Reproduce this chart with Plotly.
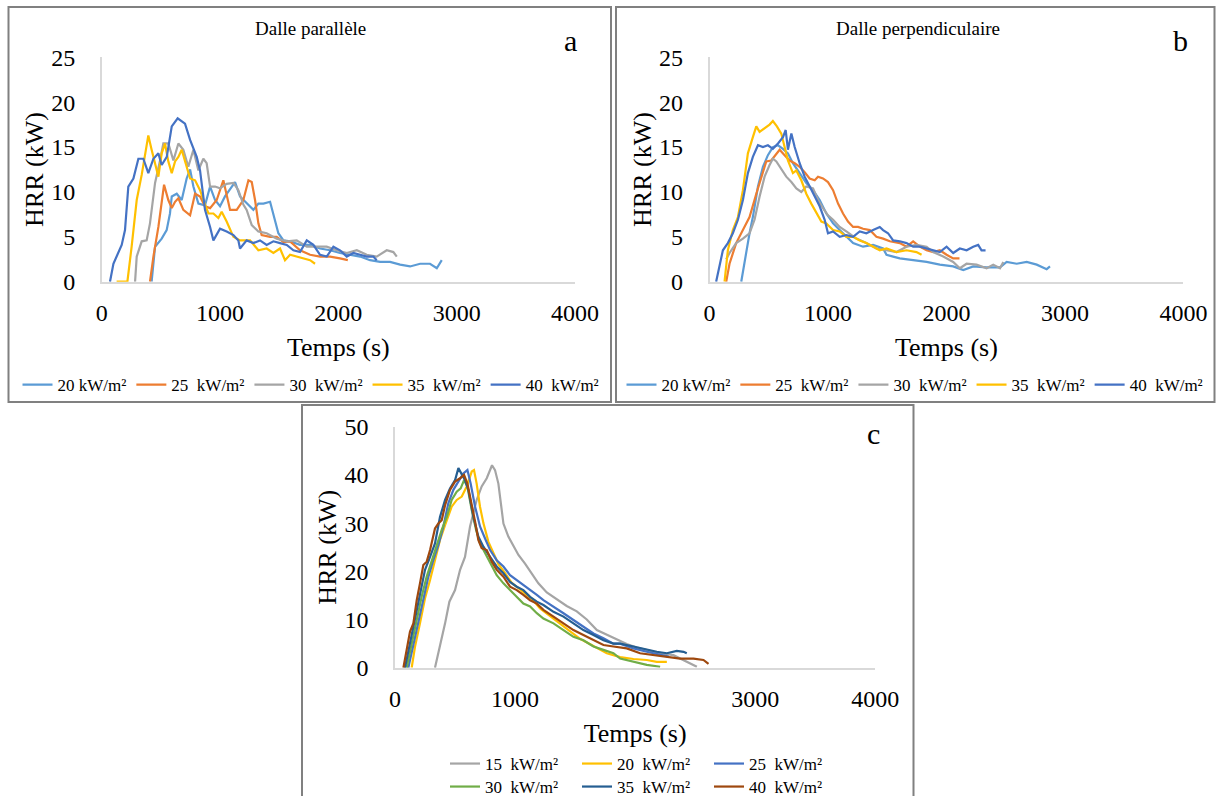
import plotly.graph_objects as go

W, H = 1217, 796
FONT = "Liberation Serif, Times New Roman, serif"

# ---------------- Panel a : Dalle parallèle ----------------
a_names = ["20 kW/m²", "25  kW/m²", "30  kW/m²", "35  kW/m²", "40  kW/m²"]
a_colors = ["#5B9BD5", "#ED7D31", "#A5A5A5", "#FFC000", "#4472C4"]

a20_x = [422, 451, 507, 549, 577, 592, 634, 676, 718, 747, 775, 817, 873, 916, 958, 1000, 1042, 1099, 1127, 1169, 1226, 1282, 1324, 1367, 1423, 1451, 1493, 1536, 1592, 1676, 1761, 1845, 1930, 2014, 2099, 2184, 2268, 2353, 2437, 2522, 2606, 2691, 2775, 2832, 2874]
a20_y = [0, 3.9, 4.8, 5.75, 7.6, 9.5, 9.8, 9.1, 11.5, 12.5, 10.6, 8.7, 8.5, 10.6, 9.1, 8.4, 9.5, 10.6, 11.1, 9.5, 8.7, 8.0, 8.7, 8.7, 8.9, 7.6, 5.4, 4.6, 4.5, 4.1, 4.1, 3.7, 3.5, 3.2, 3.0, 2.8, 2.4, 2.2, 2.2, 1.9, 1.7, 2.0, 2.0, 1.5, 2.4]

a25_x = [408, 437, 479, 507, 527, 563, 592, 620, 648, 690, 747, 789, 831, 873, 916, 972, 1028, 1085, 1141, 1197, 1240, 1268, 1296, 1324, 1352, 1423, 1479, 1536, 1592, 1676, 1761, 1845, 1930, 2014, 2080]
a25_y = [0, 2.8, 6.1, 9.1, 10.8, 9.1, 8.2, 8.9, 9.3, 8.0, 7.4, 9.8, 9.5, 8.4, 8.2, 9.1, 11.3, 8.0, 8.0, 9.1, 11.3, 11.1, 9.1, 6.5, 5.2, 5.0, 5.0, 4.4, 4.5, 3.5, 3.0, 2.8, 2.8, 2.6, 2.4]

a30_x = [282, 296, 338, 380, 408, 451, 493, 521, 563, 606, 648, 690, 732, 775, 817, 859, 887, 916, 958, 1000, 1056, 1113, 1155, 1197, 1225, 1268, 1324, 1394, 1479, 1564, 1648, 1733, 1817, 1901, 1986, 2071, 2156, 2240, 2324, 2409, 2465, 2494]
a30_y = [0, 2.8, 4.5, 4.6, 6.5, 11.0, 13.5, 15.4, 15.4, 13.5, 15.4, 14.7, 12.8, 14.7, 12.4, 13.7, 13.2, 10.6, 10.6, 10.4, 10.9, 11.0, 10.2, 8.6, 8.0, 6.3, 5.6, 5.4, 4.8, 4.5, 4.6, 3.9, 3.9, 3.9, 3.5, 3.2, 3.5, 3.0, 2.8, 3.5, 3.3, 2.8]

a35_x = [126, 217, 253, 296, 338, 366, 394, 422, 451, 479, 507, 535, 563, 592, 620, 648, 676, 718, 747, 789, 831, 873, 902, 944, 986, 1014, 1056, 1113, 1169, 1254, 1324, 1394, 1451, 1507, 1549, 1592, 1648, 1705, 1761, 1803]
a35_y = [0, 0, 3.9, 9.1, 11.9, 13.9, 16.3, 14.7, 13.0, 11.7, 14.3, 15.4, 13.4, 12.1, 13.4, 13.9, 14.7, 12.8, 11.5, 11.3, 10.2, 8.6, 7.6, 7.6, 7.1, 7.8, 6.7, 5.0, 4.6, 4.6, 3.5, 3.7, 3.2, 3.7, 2.4, 3.0, 2.8, 2.6, 2.4, 2.0]

a40_x = [70, 99, 169, 197, 225, 268, 310, 352, 394, 437, 479, 507, 550, 592, 642, 704, 747, 803, 831, 873, 916, 944, 1000, 1056, 1113, 1155, 1169, 1225, 1282, 1338, 1394, 1451, 1507, 1564, 1620, 1676, 1733, 1789, 1845, 1902, 1958, 2014, 2071, 2127, 2184, 2240, 2296, 2324]
a40_y = [0, 2.0, 4.1, 5.75, 10.6, 11.5, 13.7, 13.7, 12.1, 13.7, 14.3, 13.0, 13.9, 17.3, 18.2, 17.6, 15.8, 13.9, 12.4, 8.0, 6.1, 4.6, 5.9, 5.6, 5.2, 4.6, 3.7, 4.6, 4.3, 4.6, 4.1, 4.5, 4.3, 4.1, 3.5, 3.3, 4.6, 4.1, 3.0, 2.8, 3.9, 3.5, 2.8, 3.2, 3.0, 2.8, 2.8, 2.4]

# ---------------- Panel b : Dalle perpendiculaire ----------------
b20_x = [268, 310, 338, 366, 409, 451, 493, 535, 578, 620, 662, 704, 761, 817, 874, 930, 986, 1043, 1099, 1155, 1212, 1296, 1381, 1465, 1494, 1550, 1606, 1719, 1832, 1944, 2057, 2142, 2226, 2339, 2452, 2508, 2593, 2677, 2762, 2846, 2874]
b20_y = [0, 3.5, 5.4, 7.2, 10.6, 12.8, 14.1, 15.0, 15.2, 14.8, 14.3, 13.2, 12.1, 11.0, 10.2, 9.1, 7.6, 6.5, 5.75, 5.0, 4.3, 3.9, 4.1, 3.7, 3.0, 2.8, 2.6, 2.4, 2.2, 1.9, 1.7, 1.3, 1.7, 1.6, 1.6, 2.2, 2.0, 2.2, 1.9, 1.4, 1.7]

b25_x = [141, 169, 225, 282, 338, 395, 437, 479, 521, 564, 592, 634, 676, 719, 761, 803, 845, 888, 916, 958, 1000, 1043, 1085, 1127, 1169, 1212, 1254, 1296, 1353, 1409, 1465, 1522, 1606, 1663, 1719, 1775, 1832, 1888, 1944, 2001, 2057, 2110]
b25_y = [0, 2.0, 4.3, 5.75, 7.2, 9.8, 11.7, 13.4, 13.5, 14.3, 14.7, 14.1, 13.5, 13.2, 12.8, 12.2, 11.5, 11.3, 11.7, 11.5, 11.1, 10.2, 8.7, 7.6, 6.7, 6.1, 6.1, 5.9, 5.75, 5.0, 4.8, 4.5, 4.3, 3.9, 4.5, 3.9, 3.5, 3.3, 3.5, 3.0, 2.6, 2.6]

b30_x = [141, 169, 225, 282, 338, 380, 423, 465, 507, 535, 564, 606, 648, 691, 733, 775, 817, 874, 916, 958, 1000, 1043, 1099, 1155, 1240, 1324, 1409, 1494, 1578, 1663, 1747, 1832, 1888, 1973, 2057, 2113, 2170, 2254, 2339, 2395, 2452, 2480]
b30_y = [2.5, 3.2, 4.3, 4.8, 5.4, 6.9, 9.5, 11.7, 13.0, 13.7, 13.4, 12.6, 11.7, 11.1, 10.4, 10.0, 10.6, 10.4, 9.1, 8.2, 7.4, 6.9, 6.1, 5.6, 4.8, 4.3, 3.7, 3.5, 3.3, 3.9, 4.1, 3.9, 3.3, 2.8, 2.2, 1.5, 2.0, 1.9, 1.5, 1.9, 1.5, 2.2]

b35_x = [127, 155, 197, 240, 282, 324, 366, 395, 423, 465, 507, 535, 569, 606, 634, 662, 704, 733, 775, 817, 859, 902, 944, 986, 1043, 1099, 1155, 1212, 1268, 1324, 1381, 1437, 1494, 1578, 1663, 1747, 1790]
b35_y = [0, 3.5, 5.75, 7.2, 10.2, 14.3, 16.1, 17.3, 16.7, 17.1, 17.5, 17.9, 17.3, 16.5, 15.0, 13.5, 12.1, 12.4, 11.3, 9.8, 8.7, 7.6, 6.7, 6.5, 5.75, 5.6, 5.0, 5.0, 4.6, 4.3, 3.9, 3.5, 3.7, 3.3, 3.5, 3.3, 3.0]

b40_x = [56, 113, 155, 197, 240, 282, 324, 366, 409, 451, 493, 535, 578, 620, 643, 662, 691, 719, 761, 803, 846, 888, 930, 972, 1000, 1043, 1099, 1155, 1212, 1268, 1324, 1381, 1437, 1465, 1507, 1550, 1606, 1663, 1719, 1775, 1832, 1888, 1944, 2001, 2057, 2113, 2170, 2226, 2268, 2296, 2330]
b40_y = [0, 3.5, 4.3, 5.4, 6.9, 9.1, 12.1, 13.9, 15.2, 15.0, 15.2, 14.8, 15.4, 16.1, 16.9, 14.7, 16.5, 15.0, 13.2, 11.7, 10.6, 9.5, 8.4, 6.9, 5.4, 5.6, 5.0, 5.2, 5.0, 5.6, 5.4, 5.75, 6.1, 5.75, 5.4, 4.6, 4.5, 4.3, 3.9, 3.9, 3.7, 3.5, 3.3, 3.9, 3.2, 3.7, 3.5, 3.9, 4.1, 3.5, 3.5]

# ---------------- Panel c ----------------
c_names = ["15  kW/m²", "20  kW/m²", "25  kW/m²", "30  kW/m²", "35  kW/m²", "40  kW/m²"]
c_colors = ["#A5A5A5", "#FFC000", "#4472C4", "#70AD47", "#255E91", "#9E480E"]

c15_x = [333, 375, 417, 453, 500, 542, 583, 625, 680, 722, 764, 808, 833, 861, 903, 944, 986, 1028, 1083, 1139, 1194, 1264, 1347, 1430, 1514, 1597, 1681, 1764, 1847, 1930, 2014, 2097, 2208, 2319, 2403, 2458, 2514]
c15_y = [0, 4.4, 9.2, 13.7, 16.1, 20.3, 23.0, 29.3, 34.8, 37.6, 39.3, 42.0, 41.0, 38.2, 29.9, 27.2, 25.4, 23.4, 21.6, 19.6, 17.5, 15.6, 14.2, 12.8, 11.7, 10.0, 7.8, 6.8, 5.9, 4.9, 4.2, 3.7, 3.0, 2.6, 1.6, 0.9, 0.2]

c20_x = [139, 167, 208, 250, 292, 333, 375, 417, 472, 514, 556, 597, 639, 658, 680, 708, 736, 778, 819, 861, 917, 972, 1028, 1083, 1139, 1208, 1319, 1430, 1541, 1653, 1764, 1875, 1986, 2097, 2180, 2264]
c20_y = [0, 4.4, 9.2, 14.4, 18.2, 22.3, 26.5, 29.6, 33.4, 34.8, 35.5, 37.6, 40.7, 41.0, 38.2, 33.4, 30.0, 26.1, 23.7, 21.5, 19.6, 17.6, 16.5, 15.4, 14.3, 12.3, 10.2, 8.2, 6.0, 4.5, 3.0, 2.2, 1.8, 1.6, 1.2, 1.2]

c25_x = [111, 153, 194, 236, 278, 319, 361, 403, 444, 486, 528, 569, 603, 630, 667, 708, 750, 792, 847, 903, 958, 1014, 1069, 1125, 1181, 1236, 1320, 1403, 1486, 1569, 1653, 1736, 1819, 1875, 1986, 2097, 2208, 2280]
c25_y = [0, 4.7, 9.9, 14.7, 18.9, 22.3, 25.4, 29.3, 34.1, 36.9, 38.6, 40.3, 41.0, 38.2, 33.4, 29.3, 26.8, 24.4, 22.3, 21.0, 19.2, 18.2, 17.2, 16.1, 15.1, 14.0, 12.7, 11.3, 9.9, 8.5, 7.1, 6.1, 5.0, 5.0, 4.0, 3.3, 2.6, 2.3]

c30_x = [97, 139, 181, 222, 264, 306, 347, 389, 431, 472, 514, 547, 575, 603, 639, 675, 708, 750, 792, 847, 903, 958, 1014, 1069, 1125, 1181, 1236, 1320, 1403, 1486, 1569, 1653, 1736, 1819, 1875, 1986, 2097, 2208]
c30_y = [0, 5.0, 9.9, 14.7, 18.9, 22.3, 25.1, 28.6, 31.3, 34.8, 36.5, 37.2, 38.9, 37.6, 32.7, 28.6, 25.8, 23.7, 21.6, 19.2, 17.5, 16.1, 14.7, 13.3, 12.7, 11.3, 10.2, 9.2, 7.8, 6.4, 5.7, 4.4, 3.7, 3.0, 1.9, 1.2, 0.6, 0.2]

c35_x = [83, 125, 167, 208, 250, 292, 333, 375, 417, 458, 500, 528, 556, 583, 611, 653, 694, 736, 792, 847, 903, 958, 1014, 1069, 1125, 1181, 1236, 1320, 1403, 1486, 1569, 1653, 1736, 1819, 1875, 1986, 2097, 2180, 2264, 2347, 2403, 2430]
c35_y = [0, 5.0, 9.9, 14.7, 20.3, 23.0, 25.8, 31.3, 34.8, 37.2, 38.9, 41.4, 40.0, 38.9, 36.9, 31.3, 27.2, 25.1, 23.0, 21.0, 19.6, 17.8, 16.8, 16.1, 14.7, 13.7, 13.0, 11.6, 10.6, 9.2, 7.8, 6.8, 5.7, 5.0, 5.0, 4.4, 3.7, 3.3, 3.0, 3.5, 3.3, 3.0]

c40_x = [70, 97, 125, 153, 181, 208, 236, 264, 292, 333, 361, 389, 417, 458, 500, 542, 575, 603, 639, 667, 694, 722, 764, 806, 847, 903, 958, 1014, 1069, 1125, 1181, 1236, 1320, 1403, 1486, 1569, 1653, 1736, 1819, 1930, 2041, 2153, 2264, 2375, 2486, 2569, 2611]
c40_y = [0, 3.7, 7.5, 9.2, 14.0, 17.5, 21.3, 22.0, 24.4, 28.9, 29.9, 30.6, 33.7, 36.9, 38.6, 39.3, 40.0, 38.2, 34.1, 30.3, 26.5, 24.8, 24.4, 22.0, 20.3, 18.9, 16.8, 16.1, 15.1, 14.0, 13.3, 12.0, 10.6, 9.2, 7.8, 6.8, 5.7, 4.7, 4.4, 4.0, 3.0, 2.6, 2.3, 1.9, 1.9, 1.6, 0.8]

x_ticks = [0, 1000, 2000, 3000, 4000]

fig = go.Figure()

a_series = [(a20_x, a20_y), (a25_x, a25_y), (a30_x, a30_y), (a35_x, a35_y), (a40_x, a40_y)]
b_series = [(b20_x, b20_y), (b25_x, b25_y), (b30_x, b30_y), (b35_x, b35_y), (b40_x, b40_y)]
c_series = [(c15_x, c15_y), (c20_x, c20_y), (c25_x, c25_y), (c30_x, c30_y), (c35_x, c35_y), (c40_x, c40_y)]

for (xs, ys), name, col in zip(a_series, a_names, a_colors):
    fig.add_trace(go.Scatter(x=xs, y=ys, mode="lines", name=name, line=dict(color=col, width=2.2),
                             xaxis="x", yaxis="y", legend="legend"))
for (xs, ys), name, col in zip(b_series, a_names, a_colors):
    fig.add_trace(go.Scatter(x=xs, y=ys, mode="lines", name=name, line=dict(color=col, width=2.2),
                             xaxis="x2", yaxis="y2", legend="legend2"))
for i, ((xs, ys), name, col) in enumerate(zip(c_series, c_names, c_colors)):
    fig.add_trace(go.Scatter(x=xs, y=ys, mode="lines", name=name, line=dict(color=col, width=2.2),
                             xaxis="x3", yaxis="y3", legend="legend3" if i < 3 else "legend4"))


def px(v):
    return v / W


def py(v):
    return 1 - v / H


tickfont = dict(family=FONT, size=24, color="black")
titlefont = dict(family=FONT, size=26, color="black")
axis_line = "#D9D9D9"


def xaxis(dom, anchor):
    return dict(domain=dom, anchor=anchor, range=[0, 4000], tickvals=x_ticks, showgrid=False,
                zeroline=False, showline=True, linecolor=axis_line, linewidth=1.5, ticks="",
                ticklabelstandoff=9, tickfont=tickfont, automargin=False,
                title=dict(text="Temps (s)", font=titlefont, standoff=13))


def yaxis(dom, anchor, top, dt):
    return dict(domain=dom, anchor=anchor, range=[0, top], dtick=dt, showgrid=False,
                zeroline=False, showline=True, linecolor=axis_line, linewidth=1.5, ticks="",
                ticklabelstandoff=20, tickfont=tickfont, automargin=False,
                title=dict(text="HRR (kW)", font=titlefont, standoff=0))


legfont = dict(family=FONT, size=17, color="black")


def label(text, x, y, size):
    return dict(text=text, x=px(x), y=py(y), xref="paper", yref="paper", xanchor="center",
                yanchor="middle", showarrow=False, font=dict(family=FONT, size=size, color="black"))


fig.update_layout(
    width=W, height=H, margin=dict(l=0, r=0, t=0, b=0, autoexpand=False),
    paper_bgcolor="white", plot_bgcolor="white",
    font=dict(family=FONT, color="black"),
    xaxis=xaxis([px(101.7), px(575)], "y"),
    yaxis=yaxis([py(281.7), py(57.3)], "x", 25, 5),
    xaxis2=xaxis([px(709.5), px(1183.4)], "y2"),
    yaxis2=yaxis([py(281.7), py(57.3)], "x2", 25, 5),
    xaxis3=xaxis([px(395), px(875.3)], "y3"),
    yaxis3=yaxis([py(667.7), py(426.7)], "x3", 50, 10),
    legend=dict(orientation="h", x=px(311), y=py(385), xanchor="center", yanchor="middle",
                font=legfont, bgcolor="rgba(0,0,0,0)"),
    legend2=dict(orientation="h", x=px(915), y=py(385), xanchor="center", yanchor="middle",
                 font=legfont, bgcolor="rgba(0,0,0,0)"),
    legend3=dict(orientation="h", x=px(445), y=py(764), xanchor="left", yanchor="middle",
                 font=legfont, bgcolor="rgba(0,0,0,0)", entrywidth=87, tracegroupgap=0),
    legend4=dict(orientation="h", x=px(445), y=py(787), xanchor="left", yanchor="middle",
                 font=legfont, bgcolor="rgba(0,0,0,0)", entrywidth=87, tracegroupgap=0),
    shapes=[
        dict(type="rect", xref="paper", yref="paper", x0=px(8.5), x1=px(611), y0=py(402), y1=py(7),
             line=dict(color="#808080", width=2)),
        dict(type="rect", xref="paper", yref="paper", x0=px(616), x1=px(1214.5), y0=py(402), y1=py(7),
             line=dict(color="#808080", width=2)),
        dict(type="rect", xref="paper", yref="paper", x0=px(302), x1=px(913.5), y0=py(805), y1=py(405),
             line=dict(color="#808080", width=2)),
    ],
    annotations=[
        label("Dalle parallèle", 310, 28, 19),
        label("Dalle perpendiculaire", 918, 28, 19),
        label("a", 570, 40, 30),
        label("b", 1180, 40, 30),
        label("c", 874, 433, 30),
    ],
)

fig.write_html("out.html", config={"displayModeBar": False},
               post_script="document.body.style.margin='0px';document.body.style.overflow='hidden';")
